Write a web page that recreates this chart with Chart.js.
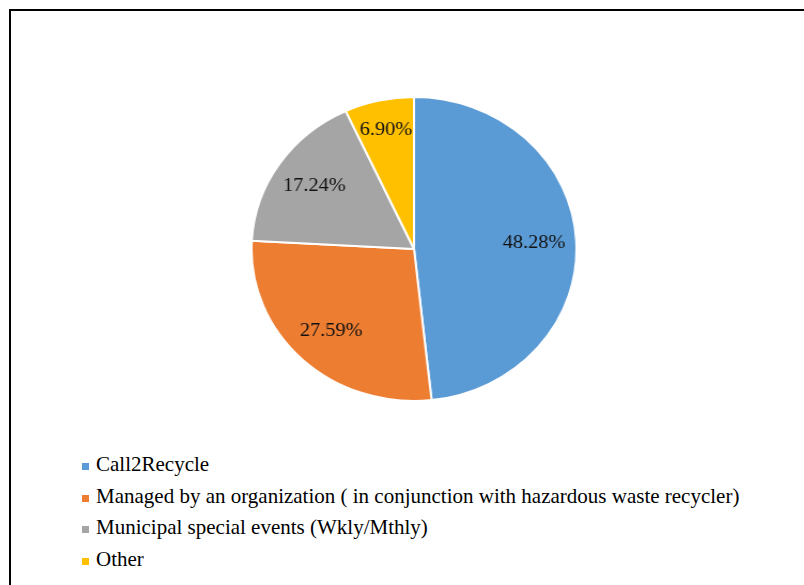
<!DOCTYPE html>
<html>
<head>
<meta charset="utf-8">
<script src="https://cdn.jsdelivr.net/npm/chart.js@4"></script>
<style>
  html, body { margin: 0; padding: 0; background: #fff; }
  body { width: 804px; height: 585px; position: relative; overflow: hidden; }
  #frame { position: absolute; left: 9px; top: 9px; width: 820px; height: 600px;
           border-left: 2px solid #000; border-top: 2px solid #000; box-sizing: border-box; }
  #pieBox { position: absolute; left: 261px; top: 96px; width: 306px; height: 306px;
            transform: scaleX(1.069); transform-origin: 50% 50%; }
  #legend { position: absolute; left: 82px; top: 449px; margin: 0; padding: 0; list-style: none;
            font-family: "Liberation Serif", "Times New Roman", serif; font-size: 21px; color: #000; }
  #legend li { height: 31.6px; line-height: 31.6px; white-space: nowrap; }
  #legend span { display: inline-block; width: 7px; height: 7px; margin-right: 7px; vertical-align: 1px; }
</style>
</head>
<body>
<div id="frame"></div>
<div id="pieBox"><canvas id="myChart"></canvas></div>
<ul id="legend"></ul>
<script>
const labels = ["Call2Recycle", "Managed by an organization ( in conjunction with hazardous waste recycler)", "Municipal special events (Wkly/Mthly)", "Other"]
const values = [48.28, 27.59, 17.24, 6.90]
const colors = ["#5B9BD5", "#ED7D31", "#A5A5A5", "#FFC000"]

// percent labels inside the slices
const sliceLabels = {
    id: "sliceLabels",
    afterDatasetsDraw(chart) {
        const ctx = chart.ctx
        const meta = chart.getDatasetMeta(0)
        ctx.save()
        ctx.font = "19px 'Liberation Serif', 'Times New Roman', serif"
        ctx.fillStyle = "#111"
        ctx.textAlign = "center"
        ctx.textBaseline = "middle"
        meta.data.forEach((arc, i) => {
            const p = arc.getProps(["x", "y", "startAngle", "endAngle", "outerRadius"], true)
            const mid = (p.startAngle + p.endAngle) / 2
            const r = p.outerRadius * (values[i] < 10 ? 0.8 : 0.74)
            ctx.fillText(values[i].toFixed(2) + "%", p.x + Math.cos(mid) * r, p.y + Math.sin(mid) * r)
        })
        ctx.restore()
    }
}

var ctx = document.getElementById('myChart').getContext('2d')
var myChart = new Chart(ctx, {
    type: "pie",
    data: {
        labels: labels,
        datasets: [{data: values, backgroundColor: colors, borderColor: "#fff", borderWidth: 2}]
    },
    options: {
        responsive: true,
        maintainAspectRatio: false,
        animation: false,
        layout: {padding: 0},
        plugins: {legend: {display: false}, tooltip: {enabled: false}}
    },
    plugins: [sliceLabels]
})

var legend = document.getElementById("legend")
labels.forEach((l, i) => {
    var li = document.createElement("li")
    li.innerHTML = '<span style="background:' + colors[i] + '"></span>' + l
    legend.appendChild(li)
})
</script>
</body>
</html>
